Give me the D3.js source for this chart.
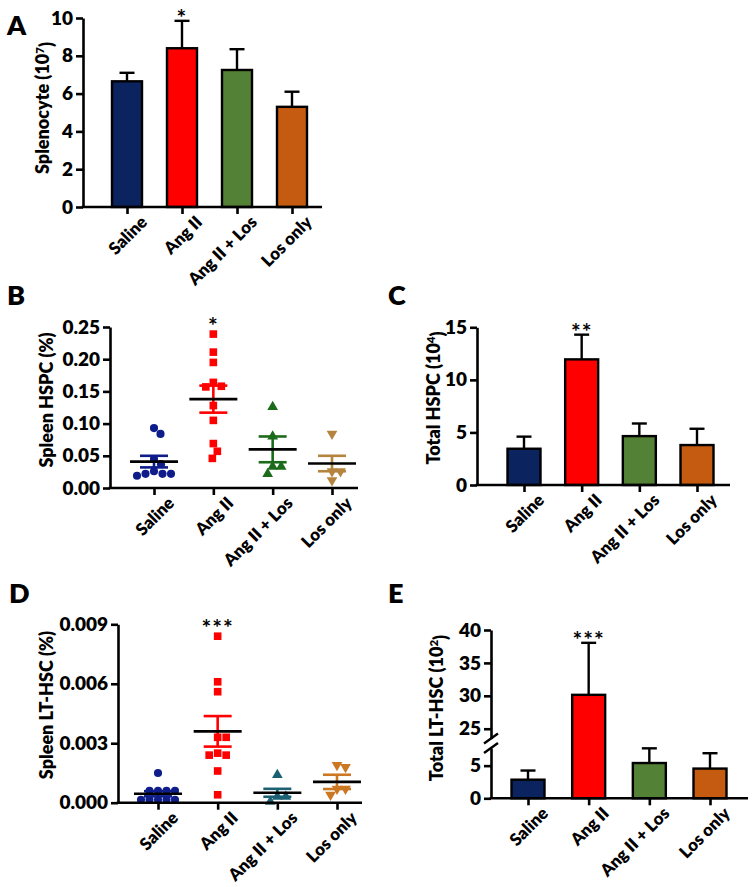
<!DOCTYPE html>
<html><head><meta charset="utf-8">
<script src="https://cdn.jsdelivr.net/npm/d3@7"></script>
<style>
body{margin:0;background:#fff}
svg{display:block}
text{font-family:Lato,'Open Sans',sans-serif;font-weight:800;fill:#000}
</style>
</head><body>
<svg id="c" width="754" height="887"></svg>
<script>
// ---------- DATA ----------
const categories = ["Saline", "Ang II", "Ang II + Los", "Los only"];
const barColors = ["#0b235f", "#ff0000", "#538135", "#c55a11"];
const scatterColorsB = ["#0f1d8a", "#ff0000", "#1b6b1b", "#b5843f"];
const scatterColorsD = ["#0f1d8a", "#ff0000", "#1c6073", "#cc7722"];

// Panel A: Splenocyte (10^7)
const splenocyteMean = [6.65, 8.4, 7.25, 5.3];
const splenocyteErr = [0.45, 1.45, 1.1, 0.8];
const splenocyteTicks = [0, 2, 4, 6, 8, 10];
const splenocyteSig = ["", "*", "", ""];

// Panel B: Spleen HSPC (%)
const hspcSaline = [0.093, 0.084, 0.045, 0.037, 0.026, 0.022, 0.022, 0.022, 0.019];
const hspcAngII = [0.239, 0.211, 0.195, 0.164, 0.158, 0.157, 0.128, 0.105, 0.069, 0.057, 0.046];
const hspcAngIILos = [0.126, 0.080, 0.033, 0.033, 0.022];
const hspcLosOnly = [0.084, 0.026, 0.026, 0.012];
const hspcMean = [0.041, 0.138, 0.060, 0.038];
const hspcSem = [0.009, 0.021, 0.020, 0.012];
const hspcTicks = [0, 0.05, 0.10, 0.15, 0.20, 0.25];
const hspcSig = ["", "*", "", ""];

// Panel C: Total HSPC (10^4)
const totalHspcMean = [3.45, 11.95, 4.65, 3.8];
const totalHspcErr = [1.15, 2.35, 1.2, 1.55];
const totalHspcTicks = [0, 5, 10, 15];
const totalHspcSig = ["", "**", "", ""];

// Panel D: Spleen LT-HSC (%)
const ltSaline = [0.0015, 0.0006, 0.0006, 0.0006, 0.0006, 0.00015, 0.00015, 0.00015, 0.00015, 0.00015];
const ltAngII = [0.0084, 0.0061, 0.0056, 0.0033, 0.0033, 0.0025, 0.0024, 0.0024, 0.0016, 0.0004];
const ltAngIILos = [0.0014, 0.0003, 0.0003, 0.00005];
const ltLosOnly = [0.0019, 0.0018, 0.0007, 0.0007, 0.0004];
const ltMean = [0.00045, 0.0036, 0.0005, 0.00105];
const ltSem = [0.00013, 0.00077, 0.0002, 0.00036];
const ltTicks = [0, 0.003, 0.006, 0.009];
const ltSig = ["", "***", "", ""];

// Panel E: Total LT-HSC (10^2)
const totalLtMean = [2.85, 30.15, 5.4, 4.55];
const totalLtErr = [1.4, 7.9, 2.25, 2.35];
const totalLtTicksLow = [0, 5];
const totalLtTicksHigh = [25, 30, 35, 40];
const totalLtSig = ["", "***", "", ""];

// ---------- DRAWING ----------
const FONT = "Lato,'Open Sans',sans-serif";
const svg = d3.select("#c");
svg.append("rect").attr("width", 754).attr("height", 887).attr("fill", "#fff");

function styleAxis(g) {
  g.selectAll("path,line").attr("stroke", "#000").attr("stroke-width", 2.6);
  g.selectAll("text").style("font-size", "19px").style("font-family", FONT).style("font-weight", 800);
}

function yAxis(scale, ticks, fmt, x) {
  const g = svg.append("g").attr("transform", `translate(${x},0)`)
    .call(d3.axisLeft(scale).tickValues(ticks).tickFormat(fmt).tickSize(7).tickPadding(3).tickSizeOuter(0));
  styleAxis(g);
  return g;
}

function xAxis(x, y0, xStart, xEnd) {
  const g = svg.append("g").attr("transform", `translate(0,${y0})`)
    .call(d3.axisBottom(x).tickSize(7).tickFormat(""));
  g.select(".domain").remove();
  styleAxis(g);
  svg.append("line").attr("x1", xStart - 1.3).attr("x2", xEnd).attr("y1", y0).attr("y2", y0)
    .attr("stroke", "#000").attr("stroke-width", 2.6);
  categories.forEach(c => {
    svg.append("text")
      .attr("transform", `translate(${x(c) + 17},${y0 + 12}) rotate(-45)`)
      .attr("text-anchor", "end").attr("dy", "0.35em")
      .style("font-size", "17px").text(c);
  });
}

function yLabel(x, y, main, sup) {
  const t = svg.append("text").attr("transform", `translate(${x},${y}) rotate(-90)`)
    .attr("text-anchor", "middle").attr("dy", "0.35em").style("font-size", "18px");
  if (sup) {
    t.append("tspan").text(main + " (10");
    t.append("tspan").attr("dy", "-0.5em").style("font-size", "11.5px").text(sup);
    t.append("tspan").attr("dy", "0.5em").text(")");
  } else {
    t.text(main);
  }
}

function panelLetter(x, y, s) {
  svg.append("text").attr("x", x).attr("y", y).style("font-size", "27px").text(s);
}

function bars(x, yf, y0, values, errs, colors, sig, bw) {
  categories.forEach((c, i) => {
    const v = values[i], e = errs[i];
    const cx = x(c);
    svg.append("line").attr("x1", cx).attr("x2", cx).attr("y1", yf(v)).attr("y2", yf(v + e))
      .attr("stroke", "#000").attr("stroke-width", 2.4);
    svg.append("line").attr("x1", cx - 7.5).attr("x2", cx + 7.5).attr("y1", yf(v + e)).attr("y2", yf(v + e))
      .attr("stroke", "#000").attr("stroke-width", 2.4);
    svg.append("rect").attr("x", cx - bw / 2).attr("y", yf(v)).attr("width", bw).attr("height", y0 - yf(v))
      .attr("fill", colors[i]).attr("stroke", "#000").attr("stroke-width", 2.4);
    if (sig[i]) {
      svg.append("text").attr("x", cx).attr("y", yf(v + e) + 5).attr("text-anchor", "middle")
        .style("font-size", "23px").style("font-weight", 700).style("letter-spacing", "1px").text(sig[i]);
    }
  });
}

function swarm(vals, y, d) {
  const pts = vals.map(v => ({ v, py: y(v) })).sort((a, b) => a.py - b.py);
  const placed = [];
  for (const p of pts) {
    for (let k = 0; k < 400; k++) {
      const dx = (k % 2 ? 1 : -1) * Math.ceil(k / 2) * 0.5;
      if (placed.every(q => (q.dx - dx) ** 2 + (q.py - p.py) ** 2 >= d * d)) { p.dx = dx; break; }
    }
    placed.push(p);
  }
  return placed;
}

const shapes = [d3.symbolCircle, d3.symbolSquare, d3.symbolTriangle, d3.symbolTriangle];
const shapeSize = [52, 58, 50, 50];
const shapeRot = [0, 0, 0, 180];

function scatter(x, y, groups, means, sems, colors, sig) {
  categories.forEach((c, i) => {
    const cx = x(c);
    const pts = swarm(groups[i], y, 8.5);
    const sym = d3.symbol().type(shapes[i]).size(shapeSize[i]);
    pts.forEach(p => {
      svg.append("path").attr("d", sym())
        .attr("transform", `translate(${cx + p.dx},${p.py}) rotate(${shapeRot[i]})`)
        .attr("fill", colors[i]);
    });
    const m = means[i], s = sems[i];
    svg.append("line").attr("x1", cx).attr("x2", cx).attr("y1", y(m - s)).attr("y2", y(m + s))
      .attr("stroke", colors[i]).attr("stroke-width", 2.6);
    [m - s, m + s].forEach(v => {
      svg.append("line").attr("x1", cx - 14).attr("x2", cx + 14).attr("y1", y(v)).attr("y2", y(v))
        .attr("stroke", colors[i]).attr("stroke-width", 2.6);
    });
    svg.append("line").attr("x1", cx - 24).attr("x2", cx + 24).attr("y1", y(m)).attr("y2", y(m))
      .attr("stroke", "#000").attr("stroke-width", 2.6);
    if (sig[i]) {
      const top = d3.min(pts, p => p.py);
      svg.append("text").attr("x", cx).attr("y", top).attr("text-anchor", "middle")
        .style("font-size", "23px").style("font-weight", 700).style("letter-spacing", "1px").text(sig[i]);
    }
  });
}

// ---- Panel A ----
{
  const y = d3.scaleLinear([0, 10], [207, 18]);
  const x = d3.scalePoint(categories, [127, 292]);
  bars(x, y, 207, splenocyteMean, splenocyteErr, barColors, splenocyteSig, 30);
  yAxis(y, splenocyteTicks, d3.format("d"), 83);
  xAxis(x, 207, 83, 322);
  yLabel(43, 108, "Splenocyte", "7");
  panelLetter(7, 35, "A");
}

// ---- Panel B ----
{
  const y = d3.scaleLinear([0, 0.25], [488, 327]);
  const x = d3.scalePoint(categories, [154, 332]);
  scatter(x, y, [hspcSaline, hspcAngII, hspcAngIILos, hspcLosOnly], hspcMean, hspcSem, scatterColorsB, hspcSig);
  yAxis(y, hspcTicks, d3.format(".2f"), 110);
  xAxis(x, 488, 110, 358);
  yLabel(47, 400, "Spleen HSPC (%)");
  panelLetter(7, 305, "B");
}

// ---- Panel C ----
{
  const y = d3.scaleLinear([0, 15], [485, 327.3]);
  const x = d3.scalePoint(categories, [524, 697]);
  bars(x, y, 485, totalHspcMean, totalHspcErr, barColors, totalHspcSig, 33);
  yAxis(y, totalHspcTicks, d3.format("d"), 477);
  xAxis(x, 485, 477, 730);
  yLabel(434, 398, "Total HSPC", "4");
  panelLetter(388, 305, "C");
}

// ---- Panel D ----
{
  const y = d3.scaleLinear([0, 0.009], [802.7, 624.3]);
  const x = d3.scalePoint(categories, [158, 337]);
  scatter(x, y, [ltSaline, ltAngII, ltAngIILos, ltLosOnly], ltMean, ltSem, scatterColorsD, ltSig);
  yAxis(y, ltTicks, d3.format(".3f"), 118);
  xAxis(x, 802.7, 118, 362);
  yLabel(47, 705, "Spleen LT-HSC (%)");
  panelLetter(9, 603, "D");
}

// ---- Panel E (broken axis) ----
{
  const yLow = d3.scaleLinear([0, 7.7], [798.3, 748]);
  const yHigh = d3.scaleLinear([23.5, 40], [738.6, 630]);
  const yf = v => (v <= 7.7 ? yLow(v) : yHigh(v));
  const x = d3.scalePoint(categories, [528, 710]);
  bars(x, yf, 798.3, totalLtMean, totalLtErr, barColors, totalLtSig, 33);
  yAxis(yLow, totalLtTicksLow, d3.format("d"), 491);
  yAxis(yHigh, totalLtTicksHigh, d3.format("d"), 491);
  [yLow.range()[1], yHigh.range()[0]].forEach(yy => {
    svg.append("line").attr("x1", 491 - 7).attr("x2", 491 + 7).attr("y1", yy + 5).attr("y2", yy - 5)
      .attr("stroke", "#000").attr("stroke-width", 2.4);
  });
  xAxis(x, 798.3, 491, 748);
  yLabel(437, 708, "Total LT-HSC", "2");
  panelLetter(388, 603, "E");
}
</script>
</body></html>
